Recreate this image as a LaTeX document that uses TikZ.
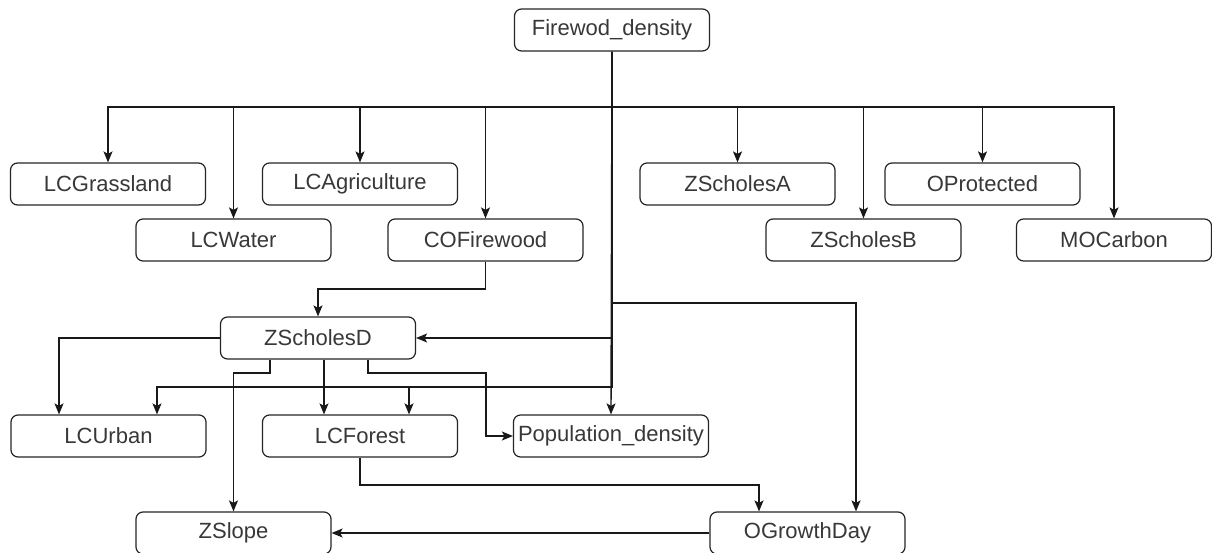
\documentclass[tikz,border=0pt]{standalone}
\usepackage{fontspec}
\setmainfont{Liberation Sans}
\usetikzlibrary{arrows.meta}
\begin{document}
\begin{tikzpicture}[x=1pt,y=-1pt,
  box/.style={draw=black!85, line width=1.2pt, rounded corners=7pt, fill=white,
    minimum width=195pt, minimum height=42pt, inner sep=0pt,
    font=\fontsize{22}{24}\selectfont, text=black!78},
  arr/.style={draw=black!90, line width=1.4pt, -{Stealth[length=11pt,width=9pt,inset=2.5pt]}},
  ln/.style={draw=black!90, line width=1.4pt}]
\useasboundingbox (0,0) rectangle (1212,553);
\fill[white] (0,0) rectangle (1212,553);
% nodes
\node[box] (fd)  at (612,30)   {Firewod\_density};
\node[box] (lcg) at (108,184)  {LCGrassland};
\node[box] (lcw) at (233.5,240) {LCWater};
\node[box] (lca) at (360,184)  {LCAgriculture};
\node[box] (cof) at (485.5,240) {COFirewood};
\node[box] (zsa) at (737.5,184) {ZScholesA};
\node[box] (zsb) at (863.5,240) {ZScholesB};
\node[box] (opr) at (982.5,184) {OProtected};
\node[box] (moc) at (1114,240) {MOCarbon};
\node[box] (zsd) at (318,338)  {ZScholesD};
\node[box] (lcu) at (108.5,436) {LCUrban};
\node[box] (lcf) at (360,436)  {LCForest};
\node[box] (pop) at (611,436)  {Population\_density};
\node[box] (zsl) at (233.5,533) {ZSlope};
\node[box] (ogd) at (807.5,533) {OGrowthDay};
% helper coordinates
\coordinate (bus) at (0,107);
\coordinate (cofy) at (0,289);
\coordinate (ogy) at (0,303);
\coordinate (midy) at (0,387);
\coordinate (zdy) at (0,373);
\coordinate (popk) at (486,373);
\coordinate (fory) at (0,485);
% Firewod_density to the top row
\foreach \t in {lcg,lcw,lca,cof,zsa,zsb,opr,moc}
  \draw[arr] (fd.south) |- (bus -| \t.north) -- (\t.north);
% Firewod_density to lower nodes
\draw[arr] (fd.south) |- (zsd.east);
\draw[arr] (fd.south) -- (pop.north);
\draw[arr] (fd.south) |- ([xshift=48.5pt]ogd.north |- ogy) -- ([xshift=48.5pt]ogd.north);
\draw[arr] (fd.south) |- ([xshift=48.5pt]lcu.north |- midy) -- ([xshift=48.5pt]lcu.north);
\draw[arr] (fd.south) |- ([xshift=49pt]lcf.north |- midy) -- ([xshift=49pt]lcf.north);
% COFirewood to ZScholesD
\draw[arr] (cof.south) |- (zsd.north |- cofy) -- (zsd.north);
% ZScholesD outgoing
\draw[arr] (zsd.west) -| ([xshift=-49.5pt]lcu.north);
\draw[arr] ([xshift=-48pt]zsd.south) |- (zsl.north |- zdy) -- (zsl.north);
\draw[arr] ([xshift=6pt]zsd.south) -- ([xshift=6pt]zsd.south |- lcf.north);
\draw[arr] ([xshift=50pt]zsd.south) |- (popk) |- (pop.west);
% LCForest to OGrowthDay
\draw[arr] (lcf.south) |- ([xshift=-48.5pt]ogd.north |- fory) -- ([xshift=-48.5pt]ogd.north);
% OGrowthDay to ZSlope
\draw[arr] (ogd.west) -- (zsl.east);
\end{tikzpicture}
\end{document}
